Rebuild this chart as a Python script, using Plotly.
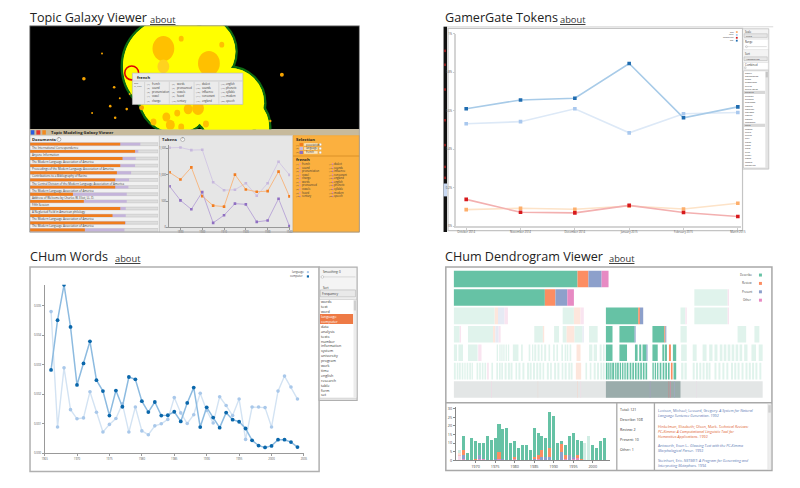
import plotly.graph_objects as go

W, H = 800, 488
FONT = "Open Sans"

# ======================= DATA =======================
# --- Topic Galaxy Viewer: token counts for selected words
tok_years = [1885, 1890, 1895, 1900, 1905, 1910, 1915, 1920, 1925, 1930, 1935, 1940]
tok_association = [1048, 910, 1142, 595, 415, 396, 1004, 722, 678, 690, 1061, 590]
tok_language = [1513, 1519, 1470, 1475, 859, 708, 716, 840, 603, 840, 1249, 999]
tok_french = [784, 514, 345, 671, 87, 232, 452, 439, 106, 132, 546, 25]
tok_ticks = [1890, 1900, 1910, 1920, 1930, 1940]

doc_titles = [
    "The International Correspondence",
    "Anyone Information",
    "The Modern Language Association of America",
    "Proceedings of the Modern Language Association of America",
    "Contributions to a Bibliography of Racine",
    "The Central Division of the Modern Language Association of America",
    "The Modern Language Association of America",
    "Address of Welcome by Charles W. Eliot, LL. D.",
    "Fifth Session",
    "A Neglected Field in American philology",
    "The Modern Language Association of America",
    "The Modern Language Association of America",
    "A Linguistic Patent?",
]
doc_assoc = [0.704, 0.820, 0.722, 0.704, 0.678, 0.665, 0.665, 0.335, 0.420, 0.704, 0.644, 0.742, 0.428]
doc_total = [0.861, 0.845, 0.825, 0.820, 0.789, 0.773, 0.768, 0.755, 0.755, 0.747, 0.747, 0.747, 0.737]

selection_words = ["association", "language", "french"]
french_words = ["french", "sound", "pronunciation", "vowel", "change", "words", "pronounced",
                "vowels", "heard", "century", "dialect", "sounds", "influence", "consonant",
                "england", "english", "phonetic", "syllable", "modern", "speech"]

# galaxy topics (x, y, radius in screen units of the galaxy view)
galaxy_topic_x = [170, 200, 175, 228, 236]
galaxy_topic_y = [65, 50, 95, 102, 126]
galaxy_topic_r = [50, 36, 38, 37, 34]
galaxy_sub_x = [162, 208, 162, 180, 221, 165, 176, 187, 197, 169, 180, 205, 152]
galaxy_sub_y = [47, 62, 65, 37, 43, 116, 112, 108, 107, 124, 126, 123, 121]
galaxy_sub_r = [11, 11, 6, 2.5, 2.5, 4, 3, 4.5, 6, 4.5, 3, 3, 3]
galaxy_dot_x = [81.7, 112.3, 108.3, 125, 140, 113.3, 281.7, 128, 100, 270, 118, 90]
galaxy_dot_y = [77.3, 86, 105, 108, 106.7, 116.7, 73.3, 92.7, 52, 120, 97, 112]
galaxy_dot_r = [1.8, 1.3, 1.3, 1.3, 2.5, 1.3, 2, 1, 1, 1.2, 1, 1]

# --- GamerGate Tokens
gg_months = ["October 2014", "November 2014", "December 2014", "January 2015", "February 2015", "March 2015"]
gg_names = ["war", "hate", "misogynist", "sjw"]
gg_war = [0.086, 0.093, 0.088, 0.105, 0.089, 0.119]
gg_hate = [0.532, 0.543, 0.610, 0.485, 0.584, 0.591]
gg_misogynist = [0.139, 0.072, 0.069, 0.108, 0.071, 0.050]
gg_sjw = [0.610, 0.656, 0.665, 0.845, 0.563, 0.620]
gg_yticks = [0, 0.2, 0.4, 0.6, 0.8, 1.0]
gg_ytext = ["0%", "0.2%", "0.4%", "0.6%", "0.8%", "1%"]
gg_words = ["bodily", "boundaries", "brain", "brokerage", "brutal", "brute force", "bulletin",
            "bureau", "burned", "business", "candle", "carnival", "cartoon", "casual", "caveat",
            "chemical", "child", "choice", "circle", "circus", "civil", "claim", "class",
            "clear", "click", "client", "clone", "coded", "collective"]

# --- CHum Words
cw_years = list(range(1966, 2005))
cw_language = [0.00481, 0.00089, 0.0029, 0.00148, 0.00117, 0.0012, 0.00209, 0.00139, 0.00072, 0.00098,
               0.00118, 0.00168, 0.00072, 0.00157, 0.00076, 0.00063, 0.00093, 0.001, 0.00115, 0.00189,
               0.00137, 0.00101, 0.00131, 0.00204, 0.00145, 0.00103, 0.00192, 0.00162, 0.00128, 0.00184,
               0.00047, 0.00157, 0.00157, 0.00155, 0.00089, 0.00211, 0.00262, 0.00225, 0.00184]
cw_computer = [0.00283, 0.00452, 0.00572, 0.00429, 0.00232, 0.00305, 0.0038, 0.00248, 0.00211, 0.00128,
               0.00213, 0.00158, 0.00259, 0.00251, 0.00177, 0.0014, 0.00174, 0.00128, 0.00129, 0.00141,
               0.00108, 0.00171, 0.00223, 0.00089, 0.00156, 0.00121, 0.00087, 0.00138, 0.00114, 0.00107,
               0.00084, 0.00044, 0.00026, 0.0002, 0.00025, 0.00046, 0.00046, 0.00038, 0.00021]
cw_yticks = [0, 0.001, 0.002, 0.003, 0.004, 0.005]
cw_ytext = ["0.000", "0.001", "0.002", "0.003", "0.004", "0.005"]
cw_wordlist = ["words", "text", "word", "language", "computer", "data", "analysis", "texts", "number",
               "information", "system", "university", "program", "work", "time", "english",
               "research", "table", "form", "set"]

# --- CHum Dendrogram
dg_years = list(range(1966, 2004))
dg_total = [6, 14, 4, 13, 11, 10, 10, 14, 12, 13, 21, 18, 19, 10, 11, 7, 9, 9, 6, 19,
            16, 14, 13, 28, 26, 10, 11, 9, 14, 16, 12, 11, 10, 14, 9, 7, 11, 13]
dg_review = [1, 3, 0, 0, 1, 0, 0, 0, 0, 0, 4, 0, 0, 0, 1, 0, 0, 0, 0, 1,
             2, 4, 0, 5, 0, 0, 5, 2, 0, 0, 1, 1, 0, 0, 0, 0, 0, 0]
dg_present = [0, 2, 0, 0, 0, 2, 0, 0, 0, 1, 0, 1, 0, 0, 0, 0, 0, 0, 0, 1,
              0, 2, 2, 2, 0, 0, 5, 0, 3, 1, 0, 0, 0, 0, 0, 0, 0, 0]
dg_other = [3, 1, 0, 0, 0, 1, 1, 0, 0, 0, 1, 0, 0, 0, 1, 0, 0, 0, 0, 0,
            1, 0, 0, 0, 0, 0, 0, 1, 0, 1, 2, 0, 0, 0, 0, 0, 0, 0]
dg_selected = [0] + [1] * 31 + [0, 0] + [1] * 4
dg_describe = [t - r - p - o for t, r, p, o in zip(dg_total, dg_review, dg_present, dg_other)]
dg_categories = ["Describe", "Review", "Present", "Other"]
dg_stats = [("Total", 121), ("Describe", 108), ("Review", 2), ("Present", 10), ("Other", 1)]

# dendrogram leaves (row, start, end, category)
dg_row_solid = {
    0: [(46, 421, "D"), (421, 454, "R"), (454, 494, "P"), (494, 515, "O")],
    1: [(46, 322, "D"), (322, 354, "R"), (354, 390, "P"), (390, 410, "O")],
    2: [(507, 605, "D"), (605, 610, "R"), (610, 620, "P")],
    3: [(507, 527, "D"), (548, 594, "D"), (594, 597, "P"), (648, 684, "D"), (684, 687, "R"), (687, 690, "P")],
    4: [(507, 527, "D"), (548, 571, "D"), (595, 603, "D"), (608, 614, "D"), (618, 630, "D"), (630, 633, "P"),
        (648, 664, "D"), (678, 684, "D"), (686, 692, "D"), (698, 704, "R"), (710, 720, "D")],
    5: [(507, 512, "D"), (514, 518, "D"), (520, 524, "D"), (526, 532, "D"), (535, 539, "D"), (541, 546, "D"),
        (549, 553, "D"), (556, 560, "D"), (563, 567, "D"), (570, 575, "D"), (579, 584, "D"), (587, 592, "D"),
        (595, 600, "D"), (603, 608, "D"), (611, 616, "D"), (619, 624, "D"), (627, 632, "D"), (648, 652, "D"),
        (655, 659, "D"), (662, 666, "D"), (670, 675, "D"), (679, 684, "D"), (687, 692, "D"), (695, 700, "D"),
        (704, 709, "R"), (712, 720, "D")],
}
dg_row_faded = {
    1: [(775, 876, "D"), (876, 880, "O")],
    2: [(46, 170, "D"), (170, 180, "R"), (180, 200, "P"), (200, 210, "O"), (376, 410, "D"), (410, 430, "R"),
        (430, 440, "O"), (733, 748, "D"), (748, 752, "O"), (775, 876, "D"), (876, 880, "O")],
    3: [(46, 64, "D"), (64, 68, "O"), (89, 165, "D"), (165, 172, "R"), (172, 182, "P"), (182, 188, "O"),
        (290, 316, "D"), (316, 320, "R"), (350, 365, "D"), (376, 388, "D"), (388, 412, "R"), (412, 436, "D"),
        (436, 440, "P"), (456, 482, "D"), (733, 752, "D"), (906, 932, "D"), (957, 972, "D")],
    4: [(46, 56, "D"), (60, 74, "D"), (89, 118, "D"), (120, 130, "O"), (176, 180, "D"), (184, 188, "D"),
        (190, 194, "D"), (196, 200, "D"), (203, 207, "D"), (210, 214, "D"), (225, 242, "D"), (250, 255, "D"),
        (273, 278, "D"), (283, 287, "D"), (290, 296, "D"), (300, 306, "D"), (310, 315, "D"), (320, 326, "D"),
        (333, 338, "D"), (347, 352, "D"), (357, 362, "D"), (372, 377, "D"), (382, 386, "D"), (388, 393, "D"),
        (397, 402, "D"), (418, 430, "R"), (456, 466, "D"), (470, 480, "D"), (488, 494, "D"), (498, 503, "D"),
        (735, 752, "D"), (770, 782, "D"), (800, 812, "D"), (820, 830, "D"), (836, 845, "D"), (852, 860, "D"),
        (864, 872, "D"), (876, 884, "D"), (888, 896, "D"), (900, 908, "D"), (912, 920, "D"), (926, 936, "D"),
        (948, 962, "D"), (970, 982, "D")],
    5: [(46, 52, "D"), (55, 60, "D"), (62, 67, "D"), (70, 75, "D"), (78, 82, "D"), (85, 90, "D"), (93, 98, "D"),
        (100, 104, "D"), (115, 120, "D"), (123, 128, "D"), (131, 136, "D"), (139, 144, "D"), (147, 152, "O"),
        (160, 165, "D"), (175, 180, "D"), (183, 188, "D"), (190, 195, "D"), (200, 206, "D"), (210, 216, "D"),
        (218, 224, "D"), (233, 238, "D"), (242, 248, "D"), (254, 260, "D"), (268, 274, "D"), (276, 282, "D"),
        (286, 292, "D"), (296, 302, "D"), (305, 311, "D"), (315, 320, "D"), (328, 334, "D"), (338, 343, "D"),
        (350, 356, "D"), (360, 366, "D"), (373, 378, "D"), (382, 388, "D"), (393, 398, "D"), (400, 406, "D"),
        (416, 432, "R"), (445, 450, "D"), (458, 463, "D"), (470, 476, "D"), (480, 486, "D"), (490, 496, "D"),
        (498, 503, "D"), (735, 742, "D"), (745, 752, "D"), (770, 776, "D"), (780, 786, "D"), (790, 796, "D"),
        (800, 806, "D"), (810, 816, "D"), (818, 824, "D"), (836, 842, "D"), (848, 854, "D"), (860, 866, "D"),
        (872, 878, "D"), (886, 892, "D"), (896, 902, "D"), (906, 912, "D"), (918, 924, "D"), (930, 936, "D"),
        (940, 946, "D"), (950, 956, "D"), (960, 966, "D"), (972, 978, "D")],
}
dg_all_span = (46, 982)
dg_cluster_span = (507, 733)

references = [
    ("Levison, Michael; Lessard, Gregory. ", "A System for Natural", "Language Sentence Generation", ". 1992", "#5b79b3"),
    ("Hinkelman, Elizabeth; Olson, Mark. ", "Technical Reviews:", "PC-Kimmo: A Computational Linguistic Tool for<br>Humanities Applications", ". 1992", "#e0622f"),
    ("Antworth, Evan L.. ", "Glossing Text with the PC-Kimmo", "Morphological Parser", ". 1992", "#5b79b3"),
    ("Steinhart, Eric. ", "NETMET: A Program for Generating and", "Interpreting Metaphors", ". 1994", "#5b79b3"),
]

# ======================= HELPERS =======================
shapes, ann = [], []


def prect(x0, y0, x1, y1, fill="rgba(0,0,0,0)", line="rgba(0,0,0,0)", lw=0, layer="below"):
    shapes.append(dict(type="rect", xref="paper", yref="paper", x0=x0 / W, x1=x1 / W,
                       y0=1 - y1 / H, y1=1 - y0 / H, fillcolor=fill,
                       line=dict(color=line, width=lw), layer=layer))


def pline(x0, y0, x1, y1, color="#aaa", lw=1, layer="below"):
    shapes.append(dict(type="line", xref="paper", yref="paper", x0=x0 / W, x1=x1 / W,
                       y0=1 - y0 / H, y1=1 - y1 / H, line=dict(color=color, width=lw), layer=layer))


def pcirc(cx, cy, r, fill="rgba(0,0,0,0)", line="rgba(0,0,0,0)", lw=0, layer="below"):
    shapes.append(dict(type="circle", xref="paper", yref="paper", x0=(cx - r) / W, x1=(cx + r) / W,
                       y0=1 - (cy + r) / H, y1=1 - (cy - r) / H, fillcolor=fill,
                       line=dict(color=line, width=lw), layer=layer))


def text(x, y, s, size=4, color="#333", xa="left", ya="middle", bold=False, italic=False, family=FONT):
    if bold:
        s = "<b>" + s + "</b>"
    if italic:
        s = "<i>" + s + "</i>"
    ann.append(dict(x=x / W, y=1 - y / H, xref="paper", yref="paper", text=s, showarrow=False,
                    font=dict(size=size, color=color, family=family), xanchor=xa, yanchor=ya,
                    borderpad=0, align="left"))


fig = go.Figure()

# ======================= TITLES =======================
for (tx, ty, t, ax_) in [(26, 16, "Topic Galaxy Viewer", 147), (445, 16, "GamerGate Tokens", 562),
                         (26, 257, "CHum Words", 112), (445, 257, "CHum Dendrogram Viewer", 611)]:
    text(tx, ty, t, 12.6, "#222")
    text(ax_, ty + 1.2, "<u>about</u>", 9.3, "#333")

# ======================= TOPIC GALAXY VIEWER =======================
prect(27, 24, 360, 128.3, fill="#000000")
for cx, cy, r in zip(galaxy_topic_x, galaxy_topic_y, galaxy_topic_r):
    shapes.append(dict(type="circle", xref="x6", yref="y6", x0=cx - r, x1=cx + r, y0=cy - r, y1=cy + r,
                       fillcolor="#ffff00", line=dict(color="#0d6a12", width=2.4), layer="below"))
for cx, cy, r in zip(galaxy_topic_x, galaxy_topic_y, galaxy_topic_r):
    r2 = r - 1.3
    shapes.append(dict(type="circle", xref="x6", yref="y6", x0=cx - r2, x1=cx + r2, y0=cy - r2, y1=cy + r2,
                       fillcolor="#ffff00", line=dict(width=0), layer="below"))
for i, (cx, cy, r) in enumerate(zip(galaxy_sub_x, galaxy_sub_y, galaxy_sub_r)):
    col = "#ffd21f" if i == 2 else "#ffc000"
    shapes.append(dict(type="circle", xref="x6", yref="y6", x0=cx - r, x1=cx + r, y0=cy - r * 1.15,
                       y1=cy + r * 1.15, fillcolor=col, line=dict(width=0), layer="below"))
for cx, cy, r in zip(galaxy_dot_x, galaxy_dot_y, galaxy_dot_r):
    shapes.append(dict(type="circle", xref="x6", yref="y6", x0=cx - r, x1=cx + r, y0=cy - r, y1=cy + r,
                       fillcolor="#f5a300", line=dict(width=0), layer="below"))
shapes.append(dict(type="circle", xref="x6", yref="y6", x0=123, x1=137, y0=64.5, y1=78.5,
                   fillcolor="rgba(0,0,0,0)", line=dict(color="#e00000", width=1.6), layer="below"))
fig.add_trace(go.Scatter(x=[30], y=[30], mode="markers", marker=dict(opacity=0), xaxis="x6", yaxis="y6",
                         hoverinfo="skip", showlegend=False))

# tooltip
prect(130.7, 71.7, 242.3, 103.3, fill="#ebebeb", line="#b5b5b5", lw=0.6, layer="above")
text(134, 75.8, "french", 4, "#222", bold=True)
pline(131, 79.6, 242, 79.6, "#bbbbbb", 0.6, layer="above")
text(131.5, 82.3, "add", 2.3, "#444")
text(131.5, 84.8, "fit, fixes", 2.1, "#444")
for c in range(4):
    cx = 143 + c * 25
    pline(cx, 80.5, cx, 102.5, "#c8c8c8", 0.6, layer="above")
    for rr in range(5):
        k = c * 5 + rr
        yy = 82.3 + rr * 4.3
        text(cx + 1.2, yy, "(%d)" % (k + 1), 2.4, "#555")
        text(cx + 6.5, yy, french_words[k], 2.6, "#333")

# header bar
prect(27, 128.3, 360, 134.7, fill="#c7ba9c")
prect(28, 129.3, 31.7, 133.7, fill="#2a5ce0")
prect(33.7, 129.3, 37.7, 133.7, fill="#e8352b")
prect(39.7, 129.3, 43.3, 133.7, fill="#f28a1e")
text(47.5, 131.6, "Topic Modeling Galaxy Viewer", 4.2, "#222", bold=True)

# Documents panel
prect(27, 134.7, 158, 232, fill="#f1f1f1", line="#c0c0c0", lw=0.6)
text(28.5, 138.6, "Documents", 4.2, "#222", bold=True)
pcirc(56.5, 138.6, 2, fill="#ffffff", line="#777", lw=0.5)
text(56.5, 138.6, "?", 2.8, "#555", xa="center")
for i, (ttl, a, t) in enumerate(zip(doc_titles, doc_assoc, doc_total)):
    shapes.append(dict(type="rect", xref="x7", yref="y7", x0=0, x1=1, y0=i - 0.2, y1=i + 0.2,
                       fillcolor="#dedede", line=dict(color="#bdbdbd", width=0.5), layer="below"))
    shapes.append(dict(type="rect", xref="x7", yref="y7", x0=0, x1=t, y0=i - 0.2, y1=i + 0.2,
                       fillcolor="#c4b4da", line=dict(width=0), layer="below"))
    shapes.append(dict(type="rect", xref="x7", yref="y7", x0=0, x1=a, y0=i - 0.2, y1=i + 0.2,
                       fillcolor="#ef7d1c", line=dict(width=0), layer="below"))
    if i < 12:
        ann.append(dict(x=0.005, y=i + 0.5, xref="x7", yref="y7", text=ttl, showarrow=False,
                        font=dict(size=2.9, color="#333", family=FONT), xanchor="left", yanchor="middle",
                        borderpad=0))
fig.add_trace(go.Scatter(x=[0.5], y=[0], mode="markers", marker=dict(opacity=0), xaxis="x7", yaxis="y7",
                         hoverinfo="skip", showlegend=False))

# Tokens panel
prect(158, 134.7, 293, 232, fill="#e6e6e6", line="#c0c0c0", lw=0.6)
text(160, 138.6, "Tokens", 4.2, "#222", bold=True)
pcirc(181.5, 138.6, 2, fill="#ffffff", line="#777", lw=0.5)
text(181.5, 138.6, "?", 2.8, "#555", xa="center")
for vals, mc, lc in [(tok_language, "#c7b8dd", "#d3c9e4"), (tok_association, "#f27c1f", "#f6b883"),
                     (tok_french, "#8f6fc2", "#bba9d8")]:
    fig.add_trace(go.Scatter(x=tok_years, y=vals, mode="lines+markers", xaxis="x3", yaxis="y3",
                             line=dict(color=lc, width=1), marker=dict(color=mc, size=2.6, symbol="square"),
                             hoverinfo="skip", showlegend=False))

# Selection panel
prect(293, 134.7, 360, 232, fill="#fbb03f", line="#e49a2a", lw=0.6)
text(295, 138.3, "Selection", 4.2, "#222", bold=True)
sel_colors = ["#f27c1f", "#c7b8dd", "#8f6fc2"]
for i, (w, c) in enumerate(zip(selection_words, sel_colors)):
    yy = 143.7 + 4 * i
    text(295, yy, "(%d)" % (i + 1), 2.4, "#5a4a2a")
    prect(299.5, yy - 1.6, 303, yy + 1.6, fill=c)
    prect(304, yy - 1.5, 318, yy + 1.5, fill="#fde7bf", line="#d9a85a", lw=0.3)
    text(304.8, yy, w, 2.6, "#333")
    pcirc(320.5, yy, 1.2, fill="#ffffff", line="#aaa", lw=0.3)
pline(293, 155.3, 360, 155.3, "#d48b22", 0.8)
text(295, 158.6, "french", 4.2, "#222", bold=True)
for k, w in enumerate(french_words):
    col, row = divmod(k, 10)
    xx = 295 + col * 33
    yy = 163.3 + row * 3.6
    text(xx, yy, "(%d)" % (k + 1), 2.4, "#5a4a2a")
    prect(xx + 4.3, yy - 0.9, xx + 5.5, yy + 0.9, fill="#e58ab8")
    text(xx + 5.8, yy, w, 2.6, "#333")

prect(27, 24, 360, 232, line="#9a9a9a", lw=0.8, layer="above")

# ======================= GAMERGATE TOKENS =======================
pline(445, 25, 778, 25, "#d8d8d8", 1)
prect(449.5, 26.5, 747, 230.5, fill="#ffffff", line="#c4c4c4", lw=1.2)
prect(445, 25, 448.5, 232, fill="#111111")
for yy in [48, 62, 87, 118, 143, 165, 176]:
    prect(445.5, yy, 447.5, yy + 2.5, fill="#8a1a1a")
prect(445, 183, 448.5, 196, fill="#c8d8f2")

gg_style = [(gg_war, "#fdae6b", "#fde3c8"), (gg_hate, "#a9c8ee", "#dde9f7"),
            (gg_misogynist, "#d7191c", "#f3b0b0"), (gg_sjw, "#1f6cb0", "#a8cbe8")]
for vals, mc, lc in gg_style:
    fig.add_trace(go.Scatter(x=list(range(len(gg_months))), y=vals, mode="lines+markers", xaxis="x",
                             yaxis="y", line=dict(color=lc, width=1.6),
                             marker=dict(color=mc, size=3.6, symbol="square"),
                             hoverinfo="skip", showlegend=False))
# legend
for i, (name, (vals, mc, lc)) in enumerate(zip(gg_names, gg_style)):
    yy = 30.3 + 2.9 * i
    text(739, yy, name, 2.2, "#444", xa="right")
    prect(740.3, yy - 0.9, 742.1, yy + 0.9, fill=mc)

# sidebar
prect(747, 27, 773.5, 168.5, fill="#f3f3f3", line="#b8b8b8", lw=0.7)
text(748.6, 30, "Scale", 2.6, "#333")
prect(748.5, 32, 772, 35.7, fill="#e6e6e6", line="#a8a8a8", lw=0.4)
text(749.5, 33.9, "Fixed", 2.4, "#333")
prect(748, 37.5, 773, 48, fill="#ffffff", line="#cfcfcf", lw=0.4)
text(748.8, 40.8, "Range", 2.6, "#333")
pline(749.5, 45, 771.5, 45, "#c8c8c8", 0.6)
pcirc(751, 45, 1, fill="#eeeeee", line="#999", lw=0.3)
text(748.8, 52.3, "Sort", 2.6, "#333")
prect(748.5, 55.3, 772, 59, fill="#e6e6e6", line="#a8a8a8", lw=0.4)
text(749.5, 57.2, "Alphabetical", 2.4, "#333")
prect(748, 61, 773, 68, fill="#ffffff", line="#cfcfcf", lw=0.4)
text(748.8, 63.2, "Combined", 2.6, "#333")
prect(749, 65.4, 750.6, 67, fill="#ffffff", line="#888", lw=0.3)
prect(748, 69.3, 773, 167.5, fill="#ffffff", line="#a8a8a8", lw=0.5)
prect(770, 69.3, 773, 167.5, fill="#e4e4e4")
prect(770.4, 70.5, 772.6, 76, fill="#c4c4c4")
for i, w in enumerate(gg_words):
    yy = 71.2 + 3.32 * i
    if i in (6, 16):
        prect(748.4, yy - 1.6, 769.8, yy + 1.6, fill="#d7d7d7")
    text(748.8, yy, w, 2.5, "#333")

# ======================= CHUM WORDS =======================
prect(27.3, 267.3, 319.3, 473.3, fill="#ffffff", line="#b0b0b0", lw=1.5)
fig.add_trace(go.Scatter(x=cw_years, y=cw_language, mode="lines+markers", xaxis="x2", yaxis="y2",
                         line=dict(color="#d3e3f3", width=1.4), marker=dict(color="#a9c8ea", size=3.6),
                         hoverinfo="skip", showlegend=False))
fig.add_trace(go.Scatter(x=cw_years, y=cw_computer, mode="lines+markers", xaxis="x2", yaxis="y2",
                         line=dict(color="#8dbbe0", width=1.5), marker=dict(color="#0a67ab", size=3.8),
                         hoverinfo="skip", showlegend=False))
text(305, 272.3, "language", 2.8, "#444", xa="right")
pcirc(308, 272.3, 1.2, fill="#a9c8ea")
text(305, 276.7, "computer", 2.8, "#444", xa="right")
prect(306.9, 275.6, 309.1, 277.8, fill="#0a67ab")

prect(319.3, 267.3, 357.7, 401.7, fill="#f4f4f4", line="#b0b0b0", lw=1.2)
text(322, 272, "Smoothing: 0", 2.9, "#333")
pline(321, 277.2, 356, 277.2, "#cfcfcf", 0.8)
pcirc(322.6, 277.2, 1.3, fill="#ffffff", line="#999", lw=0.4)
text(322, 288.3, "Sort", 2.9, "#333")
prect(320.5, 290.3, 356, 297.3, fill="#e9e9e9", line="#a8a8a8", lw=0.5)
text(321.5, 293.8, "Frequency", 3.3, "#333")
prect(319.8, 299.8, 357.2, 399.5, fill="#ffffff", line="#a8a8a8", lw=0.5)
prect(354, 300.3, 357, 399, fill="#ececec")
prect(354.4, 301, 356.6, 311, fill="#cfcfcf")
for i, w in enumerate(cw_wordlist):
    yy = 302.3 + 4.94 * i
    col = "#333"
    if w in ("language", "computer"):
        prect(320.2, yy - 2.5, 353.6, yy + 2.5, fill="#ee7a45")
        col = "#ffffff"
    text(320.6, yy, w, 3.7, col)

# ======================= CHUM DENDROGRAM =======================
prect(447.3, 267.3, 776.7, 472.3, fill="#ffffff", line="#a8a8a8", lw=1.5)
pline(447.3, 404, 776.7, 404, "#a8a8a8", 1.5)
pline(620, 404, 620, 472.3, "#a8a8a8", 1.3)
pline(658, 404, 658, 472.3, "#a8a8a8", 1.3)

solid_col = {"D": "#66c2a5", "R": "#fc8d62", "P": "#8da0cb", "O": "#e78ac3"}
faded_col = {"D": "#e0f3ec", "R": "#fde6dc", "P": "#e6eaf4", "O": "#f9e4f0"}


def leaf(row, z0, z1, color):
    shapes.append(dict(type="rect", xref="x5", yref="y5", x0=z0, x1=z1, y0=row + 0.05, y1=row + 0.95,
                       fillcolor=color, line=dict(width=0), layer="below"))


for row, segs in dg_row_faded.items():
    for z0, z1, c in segs:
        leaf(row, z0, z1, faded_col[c])
for row, segs in dg_row_solid.items():
    for z0, z1, c in segs:
        leaf(row, z0, z1, solid_col[c])
leaf(6, dg_all_span[0], dg_all_span[1], "#e3e6e6")
leaf(6, dg_cluster_span[0], dg_cluster_span[1], "#9aacab")
for z, c in [(160, "#f1d9e4"), (300, "#e9dcd8"), (420, "#f3d6cc"), (430, "#f1dbe6"), (640, "#a59fc3"),
             (697, "#c98686"), (702, "#d98aa0"), (714, "#a3a8c9"), (780, "#e8dde6")]:
    leaf(6, z, z + 1.8, c)
fig.add_trace(go.Scatter(x=[500], y=[3], mode="markers", marker=dict(opacity=0), xaxis="x5", yaxis="y5",
                         hoverinfo="skip", showlegend=False))

for i, cat in enumerate(dg_categories):
    yy = 275.3 + 8.45 * i
    text(757.5, yy, cat, 2.9, "#444", xa="right")
    prect(763.6, yy - 1.5, 766.6, yy + 1.5, fill=solid_col[cat[0]])

# bar chart
bar_sets = [(dg_other, "O"), (dg_present, "P"), (dg_review, "R"), (dg_describe, "D")]
for vals, c in bar_sets:
    fig.add_trace(go.Bar(x=dg_years, y=vals, xaxis="x4", yaxis="y4", width=0.78,
                         marker=dict(color=solid_col[c], line=dict(width=0),
                                     opacity=[1.0 if s else 0.3 for s in dg_selected]),
                         hoverinfo="skip", showlegend=False))

for i, (k, v) in enumerate(dg_stats):
    text(622.5, 411 + 10 * i, "%s: %d" % (k, v), 3.6, "#333")

ref_y = [408.7, 424.2, 444, 459.2]
for (auth, t1, t2, yr, col), yy in zip(references, ref_y):
    s = auth + "<i>" + t1 + "</i><br><i>" + t2 + "</i>" + yr
    ann.append(dict(x=660.5 / W, y=1 - yy / H, xref="paper", yref="paper", text=s, showarrow=False,
                    font=dict(size=3.7, color=col, family=FONT), xanchor="left", yanchor="top",
                    borderpad=0, align="left"))
prect(772.5, 405, 776, 471.5, fill="#eeeeee", line="#cccccc", lw=0.3)
prect(773, 406.5, 775.5, 414, fill="#d0d0d0")

# ======================= LAYOUT =======================
base_ax = dict(showgrid=False, zeroline=False, fixedrange=True)
tick3 = dict(size=2.8, color="#555", family=FONT)
layout = dict(
    width=W, height=H, margin=dict(l=0, r=0, t=0, b=0),
    paper_bgcolor="#ffffff", plot_bgcolor="rgba(0,0,0,0)", showlegend=False, barmode="stack",
    bargap=0.2, shapes=shapes, annotations=ann, font=dict(family=FONT),
    xaxis=dict(base_ax, domain=[458 / W, 745 / W], anchor="y", range=[-0.18, 5.05],
               tickvals=list(range(len(gg_months))), ticktext=gg_months, showline=True,
               linecolor="#d4d4d4", linewidth=1.5, ticks="outside", ticklen=2, tickcolor="#ccc",
               tickfont=tick3),
    yaxis=dict(base_ax, domain=[1 - 226 / H, 1 - 32 / H], anchor="x", range=[0, 1],
               tickvals=gg_yticks, ticktext=gg_ytext, showline=True, linecolor="#d4d4d4",
               linewidth=1.5, ticks="outside", ticklen=2, tickcolor="#ccc", tickfont=tick3),
    xaxis2=dict(base_ax, domain=[42 / W, 304 / W], anchor="y2", range=[1965, 2005],
                tickvals=list(range(1965, 2006, 5)), showline=True, linecolor="#999", linewidth=0.8,
                ticks="outside", ticklen=2, tickcolor="#999", tickfont=tick3),
    yaxis2=dict(base_ax, domain=[1 - 455 / H, 1 - 285 / H], anchor="x2", range=[0, 0.005724],
                tickvals=cw_yticks, ticktext=cw_ytext, showline=True, linecolor="#999", linewidth=0.8,
                ticks="outside", ticklen=2, tickcolor="#999", tickfont=tick3),
    xaxis3=dict(base_ax, domain=[168 / W, 290 / W], anchor="y3", range=[1884.9, 1940.3],
                tickvals=tok_ticks, showline=True, linecolor="#999", linewidth=0.8, ticks="outside",
                ticklen=2, tickcolor="#999", tickfont=dict(size=2.6, color="#555", family=FONT)),
    yaxis3=dict(base_ax, domain=[1 - 227.3 / H, 1 - 144 / H], anchor="x3", range=[0, 1570],
                tickvals=[0, 500, 1000, 1500], ticktext=["0", "500", "1,000", "1,500"], showline=True,
                linecolor="#999", linewidth=0.8, ticks="outside", ticklen=2, tickcolor="#999",
                tickfont=dict(size=2.6, color="#555", family=FONT)),
    xaxis4=dict(base_ax, domain=[457.3 / W, 613.5 / W], anchor="y4", range=[1964.93, 2004.5],
                tickvals=list(range(1970, 2001, 5)), showline=True, linecolor="#888", linewidth=0.8,
                ticks="outside", ticklen=2, tickcolor="#888",
                tickfont=dict(size=3.8, color="#444", family=FONT)),
    yaxis4=dict(base_ax, domain=[1 - 462 / H, 1 - 408 / H], anchor="x4", range=[0, 31.3],
                tickvals=list(range(0, 31, 5)), showline=True, linecolor="#888", linewidth=0.8,
                ticks="outside", ticklen=2, tickcolor="#888",
                tickfont=dict(size=3.8, color="#444", family=FONT)),
    xaxis5=dict(base_ax, domain=[455 / W, 768 / W], anchor="y5", range=[45, 984], visible=False),
    yaxis5=dict(base_ax, domain=[1 - 400 / H, 1 - 270 / H], anchor="x5", range=[7, 0], visible=False),
    xaxis6=dict(base_ax, domain=[27 / W, 360 / W], anchor="y6", range=[27, 360], visible=False),
    yaxis6=dict(base_ax, domain=[1 - 128.3 / H, 1 - 24 / H], anchor="x6", range=[128.3, 24], visible=False),
    xaxis7=dict(base_ax, domain=[27.3 / W, 156.7 / W], anchor="y7", range=[0, 1], visible=False),
    yaxis7=dict(base_ax, domain=[1 - 232 / H, 1 - 134 / H], anchor="x7", range=[12.3, -1.3], visible=False),
)
fig.update_layout(**layout)
fig.write_html("out.html", config={"displayModeBar": False},
               post_script="document.body.style.margin='0px';document.body.style.overflow='hidden';")
